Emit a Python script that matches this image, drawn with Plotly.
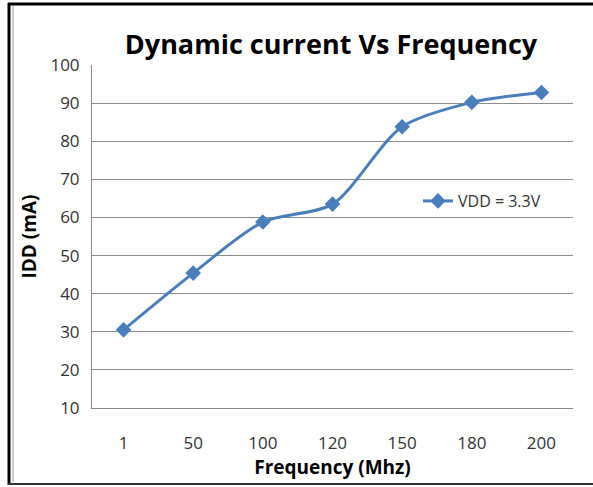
import plotly.graph_objects as go

freq_labels = ["1", "50", "100", "120", "150", "180", "200"]
idd_ma = [30.5, 45.4, 58.8, 63.5, 83.8, 90.2, 92.8]
series_name = "VDD = 3.3V"

W, H = 593, 487
L, R, T, B = 92, 20, 65, 79
pw, ph = W - L - R, H - T - B

def px(x):
    return (x - L) / pw

def py(y):
    return (H - B - y) / ph

FONT = "Open Sans, Liberation Sans, sans-serif"

fig = go.Figure()
fig.add_trace(go.Scatter(
    x=freq_labels, y=idd_ma, name=series_name, mode="lines+markers",
    line=dict(color="#4A7EBB", width=3, shape="spline", smoothing=0.8),
    marker=dict(symbol="diamond", size=12, color="#4A7EBB"),
))

axis_font = dict(family=FONT, size=17, color="#333333")
fig.update_layout(
    width=W, height=H,
    margin=dict(l=L, r=R, t=T, b=B),
    paper_bgcolor="white", plot_bgcolor="white",
    title=dict(text="<b>Dynamic current Vs Frequency</b>", x=331 / W, xanchor="center",
               y=1 - 45 / H, yanchor="middle",
               font=dict(family=FONT, size=27, color="black")),
    xaxis=dict(type="category", showgrid=False, showline=True, linecolor="#888888", linewidth=1,
               ticks="", tickfont=axis_font, ticklabelstandoff=20,
               title=dict(text="<b>Frequency (Mhz)</b>", standoff=0,
                          font=dict(family=FONT, size=19, color="black"))),
    yaxis=dict(range=[10, 100], dtick=10, showgrid=True, gridcolor="#8C8C8C", gridwidth=1,
               showline=True, linecolor="#888888", linewidth=1, zeroline=False, ticks="",
               tickfont=axis_font, ticklabelstandoff=8,
               title=dict(text="<b>IDD (mA)</b>", standoff=8,
                          font=dict(family=FONT, size=19, color="black"))),
    legend=dict(x=px(418), y=py(201), xanchor="left", yanchor="middle",
                bgcolor="rgba(255,255,255,0)", font=dict(family=FONT, size=16, color="#333333")),
    showlegend=True,
)

# chart frame
fig.add_shape(type="line", xref="paper", yref="paper", x0=px(9), x1=px(9), y0=py(3), y1=py(485),
              line=dict(color="black", width=3))
fig.add_shape(type="line", xref="paper", yref="paper", x0=px(13), x1=px(13), y0=py(6), y1=py(482),
              line=dict(color="#999999", width=1))
fig.add_shape(type="line", xref="paper", yref="paper", x0=px(8), x1=px(593), y0=py(4), y1=py(4),
              line=dict(color="black", width=3))
fig.add_shape(type="line", xref="paper", yref="paper", x0=px(8), x1=px(593), y0=py(484), y1=py(484),
              line=dict(color="#333333", width=2))

fig.write_html("out.html")
